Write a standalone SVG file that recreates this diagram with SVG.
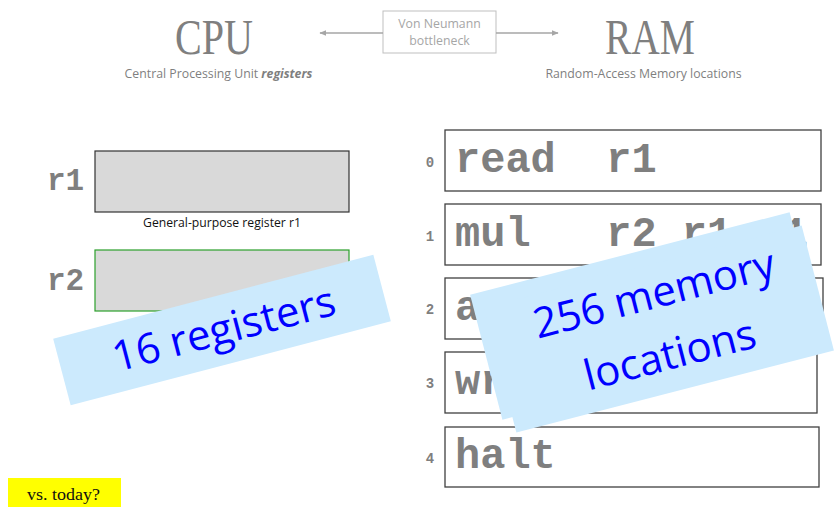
<svg xmlns="http://www.w3.org/2000/svg" width="835" height="515" viewBox="0 0 835 515">
  <defs>
    <marker id="arrow" viewBox="0 0 10 10" refX="9" refY="5" markerWidth="7" markerHeight="7" orient="auto-start-reverse" markerUnits="userSpaceOnUse">
      <path d="M0,1 L10,5 L0,9 Z" fill="#a6a6a6"/>
    </marker>
  </defs>
  <style>
    .title { font-family: "Liberation Serif", serif; font-size: 50px; fill: #7f7f7f; text-anchor: middle; }
    .sub { font-family: "Open Sans", sans-serif; font-size: 12.3px; fill: #7f7f7f; text-anchor: middle; }
    .note { font-family: "Open Sans", sans-serif; font-size: 12.3px; fill: #a6a6a6; text-anchor: middle; }
    .reg { fill: #d9d9d9; stroke-width: 1.2; }
    .mono { font-family: "Liberation Mono", "Courier New", monospace; font-weight: bold; fill: #7f7f7f; }
    .cell { fill: #ffffff; stroke: #404040; stroke-width: 1.3; }
    .addr { font-family: "Liberation Mono", monospace; font-weight: bold; font-size: 14px; fill: #7f7f7f; text-anchor: middle; }
    .code { font-size: 42px; }
    .callout { fill: #cceafd; }
    .big { font-family: "Open Sans", sans-serif; font-size: 42px; fill: #0000ff; text-anchor: middle; }
  </style>

  <!-- header -->
  <g id="cpu">
    <text class="title" x="214" y="53.5" textLength="78" lengthAdjust="spacingAndGlyphs">CPU</text>
    <text class="sub" x="218.5" y="77.5">Central Processing Unit <tspan font-weight="bold" font-style="italic">registers</tspan></text>
  </g>
  <g id="ram">
    <text class="title" x="650" y="53.5" textLength="90" lengthAdjust="spacingAndGlyphs">RAM</text>
    <text class="sub" x="643.5" y="77.5">Random-Access Memory locations</text>
  </g>
  <g id="bottleneck">
    <rect x="383" y="11" width="113" height="42" fill="#ffffff" stroke="#bfbfbf" stroke-width="1"/>
    <text class="note" x="439.5" y="28">Von Neumann</text>
    <text class="note" x="439.5" y="45">bottleneck</text>
  </g>
  <g id="connectors" stroke="#a6a6a6" stroke-width="1.3" fill="none">
    <line x1="383" y1="33" x2="320" y2="33" marker-end="url(#arrow)"/>
    <line x1="496" y1="33" x2="558" y2="33" marker-end="url(#arrow)"/>
  </g>

  <!-- registers -->
  <g id="reg-r1">
    <text class="mono" x="47" y="190" font-size="31">r1</text>
    <rect class="reg" x="95" y="151" width="254" height="61" stroke="#333333"/>
    <text x="222" y="227" font-family="Open Sans, sans-serif" font-size="12.2" fill="#111111" text-anchor="middle">General-purpose register r1</text>
  </g>
  <g id="reg-r2">
    <text class="mono" x="47" y="290" font-size="31">r2</text>
    <rect class="reg" x="95" y="250" width="254" height="61" stroke="#2ca02c"/>
  </g>

  <!-- memory cells -->
  <g id="mem-0">
    <text class="addr" x="430" y="167">0</text>
    <rect class="cell" x="445" y="130" width="376" height="61"/>
    <text class="mono code" x="455" y="172" xml:space="preserve">read  r1</text>
  </g>
  <g id="mem-1">
    <text class="addr" x="430" y="241">1</text>
    <rect class="cell" x="445" y="204" width="376" height="61"/>
    <text class="mono code" x="455" y="246" xml:space="preserve">mul   r2 r1 r1</text>
  </g>
  <g id="mem-2">
    <text class="addr" x="430" y="314">2</text>
    <rect class="cell" x="445" y="278" width="378" height="61"/>
    <text class="mono code" x="455" y="320">add</text>
  </g>
  <g id="mem-3">
    <text class="addr" x="430" y="388">3</text>
    <rect class="cell" x="445" y="352" width="372" height="61"/>
    <text class="mono code" x="455" y="394">write</text>
  </g>
  <g id="mem-4">
    <text class="addr" x="430" y="463">4</text>
    <rect class="cell" x="445" y="427" width="374" height="60"/>
    <text class="mono code" x="455" y="468">halt</text>
  </g>

  <!-- tilted callouts -->
  <g id="callout-registers" transform="rotate(-14.7 222 330)">
    <rect class="callout" x="56.5" y="295.5" width="331" height="69"/>
    <text class="big" x="224" y="344">16 registers</text>
  </g>
  <g id="callout-memory">
    <rect class="callout" x="481" y="251.5" width="330" height="129" transform="rotate(-14.5 646 316)"/>
    <g transform="rotate(-14.5 659 329)">
      <rect class="callout" x="495" y="264.5" width="328" height="129"/>
      <text class="big" x="663" y="308">256 memory</text>
      <text class="big" x="663" y="371">locations</text>
    </g>
  </g>

  <!-- question tag -->
  <g id="today">
    <rect x="8" y="478" width="113" height="29" fill="#ffff00"/>
    <text x="63.5" y="500" font-family="Liberation Serif, serif" font-size="17" fill="#111111" text-anchor="middle" textLength="73" lengthAdjust="spacingAndGlyphs">vs. today?</text>
  </g>
</svg>
